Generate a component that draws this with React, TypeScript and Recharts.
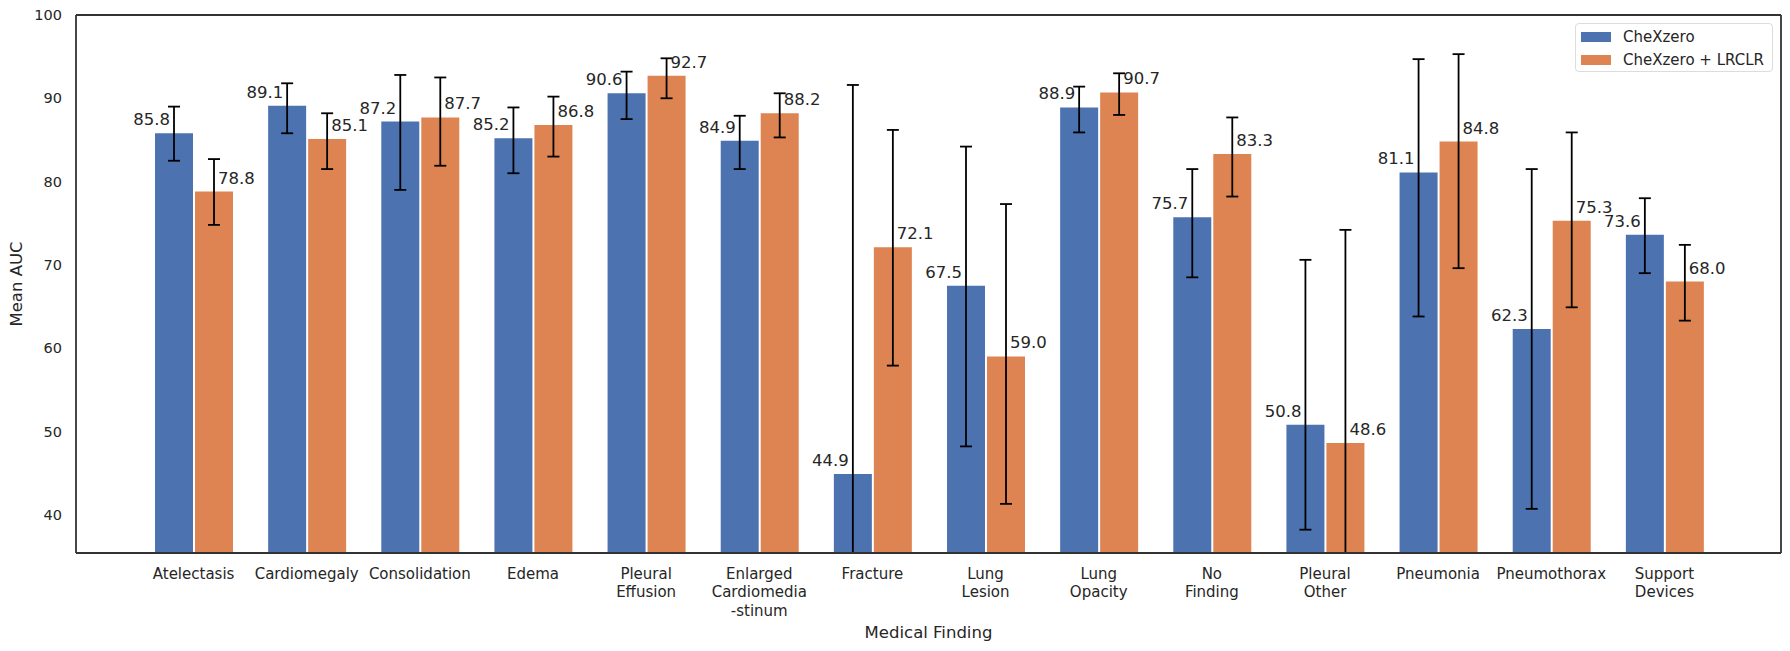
import React from 'react';
import { BarChart, Bar, XAxis, YAxis, ErrorBar, LabelList, Legend, Label } from 'recharts';

const categories = [
  'Atelectasis', 'Cardiomegaly', 'Consolidation', 'Edema', 'Pleural\nEffusion',
  'Enlarged\nCardiomedia\n-stinum', 'Fracture', 'Lung\nLesion', 'Lung\nOpacity',
  'No\nFinding', 'Pleural\nOther', 'Pneumonia', 'Pneumothorax', 'Support\nDevices',
];

const seriesNames = ['CheXzero', 'CheXzero + LRCLR'];

// lower bounds of Fracture (CheXzero) and Pleural Other (LRCLR) run past the axis; cut at its bottom
const chexzero = [85.8, 89.1, 87.2, 85.2, 90.6, 84.9, 44.9, 67.5, 88.9, 75.7, 50.8, 81.1, 62.3, 73.6];
const chexzeroLow = [82.5, 85.8, 79.0, 81.0, 87.5, 81.5, 35.4, 48.2, 85.9, 68.5, 38.2, 63.8, 40.7, 69.0];
const chexzeroHigh = [89.0, 91.8, 92.8, 88.9, 93.2, 87.9, 91.6, 84.2, 91.4, 81.5, 70.6, 94.7, 81.5, 78.0];

const lrclr = [78.8, 85.1, 87.7, 86.8, 92.7, 88.2, 72.1, 59.0, 90.7, 83.3, 48.6, 84.8, 75.3, 68.0];
const lrclrLow = [74.8, 81.5, 81.9, 83.0, 90.0, 85.3, 57.9, 41.3, 88.0, 78.2, 35.4, 69.6, 64.9, 63.3];
const lrclrHigh = [82.7, 88.2, 92.5, 90.2, 94.8, 90.6, 86.2, 77.3, 93.0, 87.7, 74.2, 95.3, 85.9, 72.4];

const yTicks = [40, 50, 60, 70, 80, 90, 100];
const yDomain: [number, number] = [35.4, 100];

const BLUE = '#4c72b0';
const ORANGE = '#dd8452';
const INK = '#262626';
const SPINE = '#333333';
const FONT = 'DejaVu Sans, sans-serif';

const data = categories.map((name, i) => ({
  name,
  chexzero: chexzero[i],
  chexzeroErr: [chexzero[i] - chexzeroLow[i], chexzeroHigh[i] - chexzero[i]],
  lrclr: lrclr[i],
  lrclrErr: [lrclr[i] - lrclrLow[i], lrclrHigh[i] - lrclr[i]],
}));

const CategoryTick = (props: any) => {
  const { x, y, payload } = props;
  const lines = String(payload.value).split('\n');
  return (
    <text x={x} y={y} textAnchor="middle" fill={INK} fontSize={15} fontFamily={FONT}>
      {lines.map((line, i) => (
        <tspan key={i} x={x} dy={i === 0 ? 26 : 18.3}>{line}</tspan>
      ))}
    </text>
  );
};

const valueLabel = (side: 'left' | 'right') => (props: any) => {
  const { x, y, width, value } = props;
  const cx = x + width / 2;
  return (
    <text
      x={side === 'left' ? cx - 4 : cx + 4}
      y={y - 8}
      textAnchor={side === 'left' ? 'end' : 'start'}
      fill={INK}
      fontSize={16.5}
      fontFamily={FONT}
    >
      {Number(value).toFixed(1)}
    </text>
  );
};

const LegendBox = () => (
  <div
    style={{
      boxSizing: 'border-box',
      width: 198,
      height: 49,
      border: '1px solid #dcdcdc',
      borderRadius: 4,
      background: '#ffffff',
      paddingTop: 1,
      fontFamily: FONT,
      fontSize: 15,
      color: INK,
    }}
  >
    {seriesNames.map((label, i) => (
      <div key={label} style={{ display: 'flex', alignItems: 'center', height: 23 }}>
        <span
          style={{
            display: 'inline-block',
            width: 30,
            height: 10,
            marginLeft: 5,
            marginRight: 12,
            background: i === 0 ? BLUE : ORANGE,
          }}
        />
        <span>{label}</span>
      </div>
    ))}
  </div>
);

export default function App() {
  return (
    <div style={{ position: 'absolute', left: 0, top: 0, width: 1790, height: 651, background: '#fff', fontFamily: FONT }}>
      <BarChart
        width={1790}
        height={651}
        data={data}
        margin={{ top: 14, right: 8, left: 0, bottom: 0 }}
        barSize={38}
        barGap={2}
      >
        <XAxis
          dataKey="name"
          height={98}
          interval={0}
          padding={{ left: 61, right: 60 }}
          tickLine={false}
          tickSize={0}
          tickMargin={0}
          tick={<CategoryTick />}
          axisLine={{ stroke: SPINE, strokeWidth: 1.8 }}
        >
          <Label
            content={(p: any) => {
              const vb = p.viewBox;
              return (
                <text x={vb.x + vb.width / 2} y={vb.y + 84.6} textAnchor="middle" fill={INK} fontSize={16.5} fontFamily={FONT}>
                  Medical Finding
                </text>
              );
            }}
          />
        </XAxis>
        <XAxis
          xAxisId="top"
          orientation="top"
          dataKey="name"
          height={1}
          tick={false}
          tickLine={false}
          padding={{ left: 61, right: 60 }}
          axisLine={{ stroke: SPINE, strokeWidth: 1.8 }}
        />
        <YAxis
          width={76}
          domain={yDomain}
          ticks={yTicks}
          allowDataOverflow
          tickLine={false}
          tickSize={0}
          tickMargin={14}
          tick={{ fill: INK, fontSize: 14.5, fontFamily: FONT }}
          axisLine={{ stroke: SPINE, strokeWidth: 1.8 }}
        >
          <Label
            content={(p: any) => {
              const vb = p.viewBox;
              const lx = vb.x + 16;
              const ly = vb.y + vb.height / 2;
              return (
                <text
                  x={lx}
                  y={ly}
                  transform={`rotate(-90, ${lx}, ${ly})`}
                  textAnchor="middle"
                  dominantBaseline="central"
                  fill={INK}
                  fontSize={16.5}
                  fontFamily={FONT}
                >
                  Mean AUC
                </text>
              );
            }}
          />
        </YAxis>
        <YAxis
          yAxisId="right"
          orientation="right"
          width={1}
          domain={yDomain}
          allowDataOverflow
          tick={false}
          tickLine={false}
          axisLine={{ stroke: SPINE, strokeWidth: 1.8 }}
        />
        <Legend
          layout="vertical"
          align="center"
          verticalAlign="middle"
          content={<LegendBox />}
          wrapperStyle={{ left: 1575, top: 23, width: 198, height: 49 }}
        />
        <Bar dataKey="chexzero" name={seriesNames[0]} fill={BLUE} isAnimationActive={false}>
          <ErrorBar dataKey="chexzeroErr" width={6} stroke="#000" strokeWidth={1.8} direction="y" isAnimationActive={false} />
          <LabelList dataKey="chexzero" content={valueLabel('left')} />
        </Bar>
        <Bar dataKey="lrclr" name={seriesNames[1]} fill={ORANGE} isAnimationActive={false}>
          <ErrorBar dataKey="lrclrErr" width={6} stroke="#000" strokeWidth={1.8} direction="y" isAnimationActive={false} />
          <LabelList dataKey="lrclr" content={valueLabel('right')} />
        </Bar>
      </BarChart>
    </div>
  );
}
